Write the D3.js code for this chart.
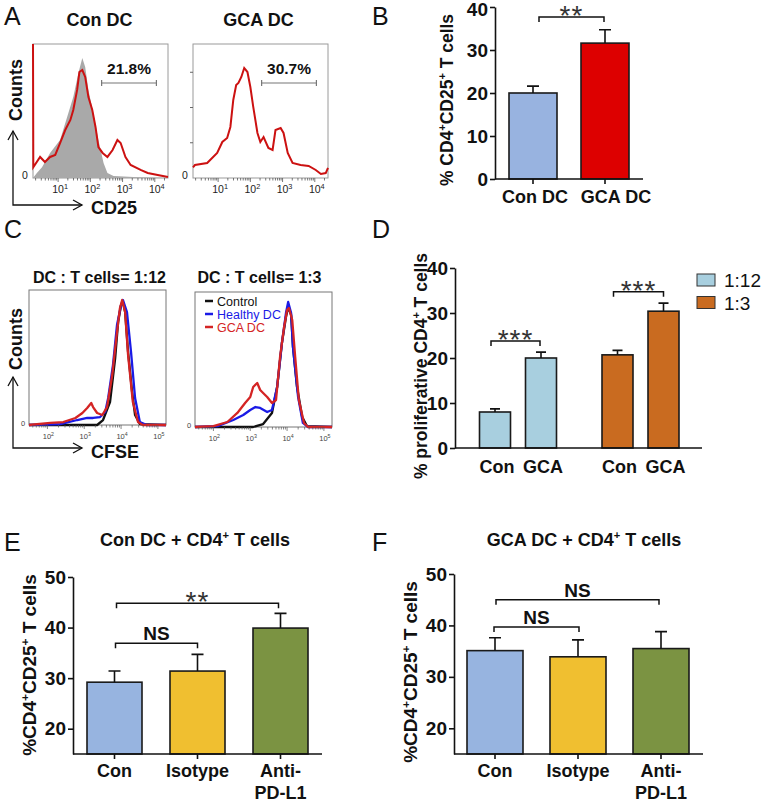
<!DOCTYPE html>
<html><head><meta charset="utf-8">
<script src="https://cdn.jsdelivr.net/npm/d3@7"></script>
<style>body{margin:0;background:#fff}svg{display:block}text{font-family:"Liberation Sans",Arial,Helvetica,sans-serif}</style>
</head><body><svg id="c" width="762" height="802"></svg>
<script>
// ---------------- DATA ----------------
// Panel A: CD25 histograms, x = log10(CD25), y = % of max counts
const aConGray = [[0.22,0],[0.34,3.7],[0.5,8],[0.75,18.7],[1.06,28.4],[1.28,45.5],[1.47,60.4],[1.63,78.4],[1.75,89.6],[1.84,82.8],[1.94,65.7],[2.09,48.5],[2.25,28.4],[2.41,11.2],[2.53,3.7],[2.72,1.5],[3.34,0.7],[4.41,0]];
const aConRed = [[0.22,100],[0.23,8],[0.44,15.7],[0.59,11.9],[0.75,15.7],[0.91,17.2],[1.06,26.1],[1.22,35.8],[1.38,43.3],[1.47,50.7],[1.59,65.7],[1.66,79.1],[1.75,80.6],[1.84,75.4],[1.94,60.4],[2.06,50.7],[2.16,38.1],[2.25,23.1],[2.38,18.7],[2.53,15.7],[2.69,20.9],[2.84,28.4],[2.94,26.1],[3.09,15.7],[3.25,9.7],[3.56,6.0],[3.78,3.7],[4.09,2.2],[4.41,0.7]];
const aGcaRed = [[0.22,8],[0.28,9.7],[0.66,11.2],[0.97,18.7],[1.13,26.9],[1.28,29.9],[1.38,38.1],[1.47,58.2],[1.56,69.4],[1.63,70.9],[1.72,75.4],[1.81,82.1],[1.91,79.1],[2.0,67.9],[2.09,53.0],[2.22,33.6],[2.31,26.9],[2.41,30.6],[2.56,22.4],[2.69,20.9],[2.78,35.8],[2.94,37.3],[3.03,33.6],[3.16,18.7],[3.31,11.2],[3.56,9.7],[3.81,9.0],[4.03,6.0],[4.19,3.0],[4.34,3.7],[4.41,7.5]];
const aGates = ["21.8%","30.7%"];
const aTitles = ["Con DC","GCA DC"];
const aTickExp = [1,2,3,4];

// Panel B
const bCats = ["Con DC","GCA DC"];
const bVals = [20.0, 31.6];
const bErrs = [1.6, 3.1];
const bTicks = [0,10,20,30,40];

// Panel C: CFSE histograms, x = log10(CFSE), y = % of max
const c12Control = [[1.5,0],[3.35,0],[3.51,3.7],[3.70,17.0],[3.84,49.6],[3.92,76.3],[4.0,88.9],[4.05,91.1],[4.11,83.7],[4.19,54.1],[4.30,24.4],[4.38,7.4],[4.51,0.7],[5.22,0]];
const c12Healthy = [[1.5,0],[2.35,0.7],[2.81,3.7],[3.08,5.2],[3.24,5.2],[3.43,5.9],[3.57,9.6],[3.65,20.0],[3.78,44.4],[3.89,74.1],[4.0,88.9],[4.05,92.6],[4.16,83.7],[4.27,54.1],[4.38,20.0],[4.51,2.2],[4.70,0],[5.22,0]];
const c12Gca = [[1.5,0],[2.08,1.5],[2.43,2.2],[2.76,5.2],[2.95,8.9],[3.08,12.6],[3.19,16.3],[3.24,13.3],[3.35,8.9],[3.49,7.4],[3.62,13.3],[3.76,37.0],[3.89,68.9],[3.97,86.7],[4.03,92.6],[4.11,83.7],[4.19,51.9],[4.32,17.0],[4.46,2.2],[4.59,0],[5.22,0]];
const c3Control = [[1.5,0],[3.08,0],[3.35,2.2],[3.59,10.4],[3.73,29.6],[3.86,62.2],[3.97,81.5],[4.03,88.9],[4.11,83.0],[4.16,59.3],[4.27,29.6],[4.41,7.4],[4.54,0.7],[5.22,0]];
const c3Healthy = [[1.5,0],[2.11,0.7],[2.54,5.2],[2.81,8.9],[3.0,12.6],[3.14,14.8],[3.27,14.1],[3.46,11.1],[3.59,12.6],[3.73,29.6],[3.86,62.2],[3.97,84.4],[4.03,92.6],[4.11,84.4],[4.16,59.3],[4.30,22.2],[4.43,3.0],[4.57,0],[5.22,0]];
const c3Gca = [[1.5,0],[2.0,0.7],[2.38,3.7],[2.65,10.4],[2.86,17.8],[3.0,22.2],[3.08,29.6],[3.19,32.6],[3.27,27.4],[3.35,25.2],[3.46,22.2],[3.59,17.8],[3.70,20.0],[3.81,51.9],[3.92,74.1],[4.0,86.7],[4.05,88.1],[4.14,79.3],[4.22,51.9],[4.32,20.0],[4.46,3.0],[4.57,0],[5.22,0]];
const cTitles = ["DC : T cells= 1:12","DC :  T cells= 1:3"];
const cLegend = ["Control","Healthy DC","GCA DC"];
const cTickExp = [2,3,4,5];

// Panel D
const dGroups = ["1:12","1:3"];
const dSub = ["Con","GCA"];
const dVals = [[8.0,20.0],[20.7,30.4]];
const dErrs = [[0.7,1.3],[1.0,1.8]];
const dTicks = [0,10,20,30,40];

// Panels E, F
const efCats = ["Con","Isotype","Anti-PD-L1"];
const efLabels = [["Con"],["Isotype"],["Anti-","PD-L1"]];
const eVals = [29.2, 31.4, 39.9];
const eErrs = [2.2, 3.3, 2.9];
const fVals = [35.1, 33.9, 35.5];
const fErrs = [2.5, 3.3, 3.3];
const efTicks = [20,30,40,50];

// ---------------- DRAW ----------------
const svg = d3.select("#c");
svg.append("rect").attr("width",762).attr("height",802).attr("fill","#fff");

function text(g,x,y,s,o={}){
  const t=g.append("text").attr("x",x).attr("y",y)
    .attr("font-size",o.fs||16).attr("font-weight",o.bold?"bold":"normal")
    .attr("text-anchor",o.anchor||"start").attr("fill",o.fill||"#111");
  if(o.rot) t.attr("transform",`rotate(-90,${x},${y})`);
  if(o.ls) t.attr("letter-spacing",o.ls);
  if(Array.isArray(s)){
    const fs=o.fs||16; let up=false;
    s.forEach(p=>{
      const sup=p[1];
      const ts=t.append("tspan").text(p[0]);
      if(sup){ts.attr("font-size",fs*0.62).attr("dy",-fs*0.38);up=true;}
      else if(up){ts.attr("dy",fs*0.38);up=false;}
    });
  } else t.text(s);
  return t;
}
function supTick(g,x,y,base,exp,fs,fill){
  const t=g.append("text").attr("x",x).attr("y",y).attr("font-size",fs).attr("text-anchor","middle").attr("fill",fill||"#222");
  t.append("tspan").text(base);
  t.append("tspan").text(exp).attr("font-size",fs*0.7).attr("dy",-fs*0.4);
}
function arrows(g,x0,yTop,yBot,xRight){
  g.append("path").attr("d",`M${x0},${yTop} V${yBot} H${xRight}`).attr("fill","none").attr("stroke","#111").attr("stroke-width",1.3);
  g.append("path").attr("d",`M${x0-5},${yTop+9} L${x0},${yTop} L${x0+5},${yTop+9}`).attr("fill","none").attr("stroke","#111").attr("stroke-width",1.3);
  g.append("path").attr("d",`M${xRight-9},${yBot-5} L${xRight},${yBot} L${xRight-9},${yBot+5}`).attr("fill","none").attr("stroke","#111").attr("stroke-width",1.3);
}

// Panel letters
[["A",4,25],["B",372,25],["C",4,238],["D",372,238],["E",4,551],["F",372,551]].forEach(d=>text(svg,d[1],d[2],d[0],{fs:25}));

// ---------- Panel A ----------
(function(){
  const g=svg.append("g");
  const boxes=[[33,168],[193,328]];
  const top=44,bot=178;
  const curves=[[{d:aConGray,fill:true},{d:aConRed}],[{d:aGcaRed}]];
  boxes.forEach((b,i)=>{
    const x=d3.scaleLinear().domain([0.22,4.41]).range(b);
    const y=d3.scaleLinear().domain([0,100]).range([bot,top]);
    g.append("rect").attr("x",b[0]).attr("y",top).attr("width",b[1]-b[0]).attr("height",bot-top).attr("fill","none").attr("stroke","#9a9a9a").attr("stroke-width",1);
    curves[i].forEach(c=>{
      if(c.fill){
        g.append("path").attr("d",d3.area().x(d=>x(d[0])).y0(y(0)).y1(d=>y(d[1]))(c.d)).attr("fill","#a9a9a9");
      } else {
        g.append("path").attr("d",d3.line().x(d=>x(d[0])).y(d=>y(d[1]))(c.d)).attr("fill","none").attr("stroke","#cc1111").attr("stroke-width",2);
      }
    });
    for(let e=0;e<=4;e++){
      for(let m=1;m<=9;m++){
        const l=e+Math.log10(m);
        if(l<0.22||l>4.41) continue;
        g.append("line").attr("x1",x(l)).attr("x2",x(l)).attr("y1",bot).attr("y2",bot+(m===1?4:2.5)).attr("stroke","#555").attr("stroke-width",0.8);
      }
    }
    aTickExp.forEach(e=>supTick(g,x(e)+2,193,"10",String(e),10.5));
    text(g,b[0]-11,179,"0",{fs:10.5,fill:"#222"});
    if(i===1){[26.3,52.6,78.9].forEach(v=>g.append("line").attr("x1",b[0]).attr("x2",b[0]-3).attr("y1",y(v)).attr("y2",y(v)).attr("stroke","#666"));}
    const gx=[x(2.35),x(4.05)], gy=83;
    g.append("path").attr("d",`M${gx[0]},${gy-3}V${gy+3}M${gx[0]},${gy}H${gx[1]}M${gx[1]},${gy-3}V${gy+3}`).attr("stroke","#777").attr("stroke-width",1.2).attr("fill","none");
    text(g,(gx[0]+gx[1])/2,74,aGates[i],{fs:15.5,bold:true,anchor:"middle"});
    text(g,(b[0]+b[1])/2-1+(i?-1:0),26,aTitles[i],{fs:18,bold:true,anchor:"middle"});
  });
  text(g,22,90,"Counts",{fs:18,bold:true,anchor:"middle",rot:true});
  arrows(g,13,131,205,82);
  text(g,91,214,"CD25",{fs:18,bold:true});
})();

// ---------- generic bar panel ----------
function axisStyle(sel,fs){
  sel.select(".domain").attr("stroke","#111").attr("stroke-width",1.6);
  sel.selectAll(".tick line").attr("stroke","#111").attr("stroke-width",1.6);
  sel.selectAll(".tick text").attr("font-size",fs).attr("font-weight","bold").attr("fill","#111")
     .attr("font-family",'"Liberation Sans",Arial,sans-serif');
}
function errBar(g,cx,yv,ye,half){
  g.append("path").attr("d",`M${cx},${yv}V${ye}M${cx-half},${ye}H${cx+half}`).attr("stroke","#111").attr("stroke-width",1.6).attr("fill","none");
}
function bracket(g,x1,x2,yb,label,kind){
  g.append("path").attr("d",`M${x1},${yb+5}V${yb}H${x2}V${yb+5}`).attr("fill","none").attr("stroke","#111").attr("stroke-width",1.5);
  if(kind==="star") text(g,(x1+x2)/2,yb+8,label,{fs:28,anchor:"middle",fill:"#333",ls:1});
  else text(g,(x1+x2)/2,yb-3,label,{fs:19,bold:true,anchor:"middle"});
}
function barPanel(p){
  const g=svg.append("g");
  const y=d3.scaleLinear().domain(p.yDomain).range(p.yRange);
  const x=d3.scalePoint().domain(p.cats).range(p.xRange);
  const y0=y(p.yDomain[0]);
  g.selectAll("rect.bar").data(p.cats).join("rect").attr("class","bar")
    .attr("x",d=>x(d)-p.bw/2).attr("width",p.bw)
    .attr("y",(d,i)=>y(p.vals[i])).attr("height",(d,i)=>y0-y(p.vals[i]))
    .attr("fill",(d,i)=>p.colors[i]).attr("stroke","#1a1a1a").attr("stroke-width",1.6);
  p.cats.forEach((c,i)=>errBar(g,x(c),y(p.vals[i]),y(p.vals[i]+p.errs[i]),p.cap));
  const ax=d3.axisLeft(y).tickValues(p.ticks).tickSize(5).tickSizeOuter(0).tickPadding(2);
  const ag=g.append("g").attr("transform",`translate(${p.axisX},0)`).call(ax);
  axisStyle(ag,p.tfs);
  if(p.topLabelDy) ag.selectAll(".tick").filter(d=>d===p.yDomain[1]).select("text").attr("y",p.topLabelDy);
  g.append("line").attr("x1",p.axisX).attr("x2",p.xEnd).attr("y1",y0).attr("y2",y0).attr("stroke","#111").attr("stroke-width",1.6);
  p.cats.forEach(c=>g.append("line").attr("x1",x(c)).attr("x2",x(c)).attr("y1",y0).attr("y2",y0+5).attr("stroke","#111").attr("stroke-width",1.6));
  p.labels.forEach((ls,i)=>ls.forEach((l,j)=>text(g,x(p.cats[i])+(p.labDx?p.labDx[i]:0),p.labY+j*21.5,l,{fs:18,bold:true,anchor:"middle"})));
  p.brackets.forEach(b=>bracket(g,x(p.cats[b[0]])+b[3],x(p.cats[b[1]])+b[4],y(b[2]),b[5],b[6]));
  text(g,p.ylab[0],p.ylab[1],p.ylabText,{fs:p.ylabFs,bold:true,anchor:"middle",rot:true});
  if(p.title) text(g,p.title[0],p.title[1],p.titleText,{fs:18,bold:true,anchor:"middle"});
}

// ---------- Panel B ----------
barPanel({cats:bCats,vals:bVals,errs:bErrs,yDomain:[0,40],yRange:[179,7],xRange:[533,605],bw:48,cap:6,
  colors:["#98b3e0","#dd0000"],ticks:bTicks,tfs:19,axisX:495,xEnd:643,topLabelDy:2,
  labels:bCats.map(c=>[c]),labY:203,labDx:[2,11],
  brackets:[[0,1,37.7,6,-1,"**","star"]],
  ylab:[453,100],ylabText:[["% CD4",0],["+",1],["CD25",0],["+",1],[" T cells",0]],ylabFs:17.5});

// ---------- Panel C ----------
(function(){
  const g=svg.append("g");
  const boxes=[{b:[29,166],t:290,bo:425,curves:[c12Control,c12Healthy,c12Gca]},{b:[195,332],t:292,bo:427,curves:[c3Control,c3Healthy,c3Gca]}];
  const cols=["#111111","#1a1ae6","#d42424"];
  boxes.forEach((bx,i)=>{
    const x=d3.scaleLinear().domain([1.5,5.22]).range(bx.b);
    const y=d3.scaleLinear().domain([0,100]).range([bx.bo,bx.t]);
    g.append("rect").attr("x",bx.b[0]).attr("y",bx.t).attr("width",bx.b[1]-bx.b[0]).attr("height",bx.bo-bx.t).attr("fill","none").attr("stroke","#777").attr("stroke-width",1);
    bx.curves.forEach((c,k)=>g.append("path").attr("d",d3.line().x(d=>x(d[0])).y(d=>y(d[1]))(c)).attr("fill","none").attr("stroke",cols[k]).attr("stroke-width",2.3).attr("stroke-linejoin","round"));
    for(let e=1;e<=5;e++){
      for(let m=1;m<=9;m++){
        const l=e+Math.log10(m);
        if(l<1.5||l>5.22) continue;
        g.append("line").attr("x1",x(l)).attr("x2",x(l)).attr("y1",bx.bo).attr("y2",bx.bo+(m===1?4:2.5)).attr("stroke","#555").attr("stroke-width",0.7);
      }
    }
    cTickExp.forEach(e=>supTick(g,x(e)+1,bx.bo+14,"10",String(e),7.5,"#444"));
    text(g,bx.b[0]-8,bx.bo+1,"0",{fs:7.5,fill:"#444"});
    text(g,(bx.b[0]+bx.b[1])/2+(i?-4:2),283,cTitles[i],{fs:16,bold:true,anchor:"middle"});
    if(i===1){
      cLegend.forEach((l,k)=>{
        const ly=301+k*13;
        g.append("line").attr("x1",205).attr("x2",213).attr("y1",ly).attr("y2",ly).attr("stroke",cols[k]).attr("stroke-width",2.5);
        text(g,217,ly+4.5,l,{fs:12.5,fill:k===0?"#111":cols[k]});
      });
    }
  });
  text(g,22,339,"Counts",{fs:18,bold:true,anchor:"middle",rot:true});
  arrows(g,13,377,448,82);
  text(g,91,458,"CFSE",{fs:18,bold:true});
})();

// ---------- Panel D ----------
(function(){
  const g=svg.append("g");
  const y=d3.scaleLinear().domain([0,40]).range([448,268]);
  const xg=d3.scalePoint().domain(dGroups).range([518,640.5]);
  const xs=d3.scalePoint().domain(dSub).range([-23,23]);
  const cols=["#a8cfdf","#c96b20"];
  const bw=31;
  dGroups.forEach((gr,gi)=>{
    dSub.forEach((s,si)=>{
      const cx=xg(gr)+xs(s), v=dVals[gi][si];
      g.append("rect").attr("x",cx-bw/2).attr("width",bw).attr("y",y(v)).attr("height",y(0)-y(v)).attr("fill",cols[gi]).attr("stroke","#1a1a1a").attr("stroke-width",1.6);
      errBar(g,cx,y(v),y(v+dErrs[gi][si]),5);
      text(g,cx+2,473,s,{fs:18,bold:true,anchor:"middle"});
    });
  });
  const ax=d3.axisLeft(y).tickValues(dTicks).tickSize(5).tickSizeOuter(0).tickPadding(2);
  axisStyle(g.append("g").attr("transform","translate(455,0)").call(ax),19);
  g.append("line").attr("x1",455).attr("x2",702).attr("y1",448).attr("y2",448).attr("stroke","#111").attr("stroke-width",1.6);
  bracket(g,xg("1:12")+xs("Con")-4,xg("1:12")+xs("GCA")-1,y(23.8),"***","star");
  bracket(g,xg("1:3")+xs("Con")-4,xg("1:3")+xs("GCA"),y(34.7),"***","star");
  dGroups.forEach((gr,gi)=>{
    g.append("rect").attr("x",697).attr("y",274+gi*22.5).attr("width",18).attr("height",12).attr("fill",cols[gi]).attr("stroke","#333").attr("stroke-width",1);
    text(g,724,287+gi*22.5,gr,{fs:19});
  });
  text(g,427,366,[["% proliferative CD4",0],["+",1],[" T cells",0]],{fs:17.5,bold:true,anchor:"middle",rot:true});
})();

// ---------- Panel E ----------
const efColors=["#97b4e0","#f0bf30","#7b9342"];
barPanel({cats:efCats,vals:eVals,errs:eErrs,yDomain:[15,50],yRange:[754,577],xRange:[114.5,280.5],bw:55,cap:6,
  colors:efColors,ticks:efTicks,tfs:19,axisX:73,xEnd:322,
  labels:efLabels,labY:777,
  brackets:[[0,1,36.9,1,0,"NS","ns"],[0,2,44.8,2,-2,"**","star"]],
  ylab:[36,665],ylabText:[["%CD4",0],["+",1],["CD25",0],["+",1],[" T cells",0]],ylabFs:19,
  title:[195,546],titleText:[["Con DC + CD4",0],["+",1],[" T cells",0]]});

// ---------- Panel F ----------
barPanel({cats:efCats,vals:fVals,errs:fErrs,yDomain:[15,50],yRange:[754,574],xRange:[495,661],bw:56,cap:6,
  colors:efColors,ticks:efTicks,tfs:19,axisX:454,xEnd:703,
  labels:efLabels,labY:777,
  brackets:[[0,1,39.7,-1,1,"NS","ns"],[0,2,45.0,1,-2,"NS","ns"]],
  ylab:[417,672],ylabText:[["%CD4",0],["+",1],["CD25",0],["+",1],[" T cells",0]],ylabFs:19,
  title:[584,546],titleText:[["GCA DC + CD4",0],["+",1],[" T cells",0]]});
</script></body></html>
